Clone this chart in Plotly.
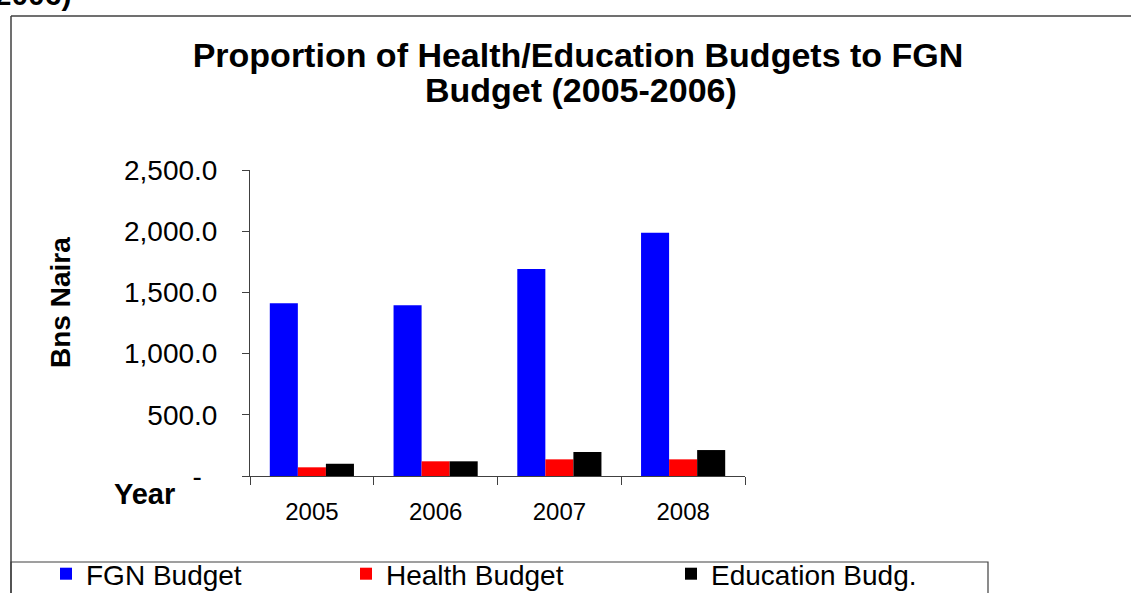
import plotly.graph_objects as go

years = ["2005", "2006", "2007", "2008"]
fgn_budget = [1411, 1394, 1691, 1988]
health_budget = [71, 120, 136, 136]
education_budget = [100, 120, 196, 212]

ytick_vals = [0, 500, 1000, 1500, 2000, 2500]
ytick_text = ["-\u00a0\u00a0", "500.0", "1,000.0", "1,500.0", "2,000.0", "2,500.0"]

W, H = 1131, 593
L, R, T, B = 250, 745, 170, 476  # plot area pixels


def px(x):
    return (x - L) / (R - L)


def py(y):
    return (B - y) / (B - T)


FONT = "Liberation Sans, Arial, sans-serif"

fig = go.Figure()
fig.add_trace(go.Bar(name="FGN Budget", x=years, y=fgn_budget, marker_color="#0000FF",
                     marker_line_width=0, legend="legend"))
fig.add_trace(go.Bar(name="Health Budget", x=years, y=health_budget, marker_color="#FF0000",
                     marker_line_width=0, legend="legend2"))
fig.add_trace(go.Bar(name="Education Budg.", x=years, y=education_budget, marker_color="#000000",
                     marker_line_width=0, legend="legend3"))


def legend_at(xpix):
    return dict(
        orientation="h", xref="paper", yref="paper",
        x=px(xpix), xanchor="left", y=py(574), yanchor="middle",
        font=dict(family=FONT, size=28, color="black"),
        bgcolor="rgba(0,0,0,0)", borderwidth=0,
    )


fig.update_layout(
    width=W, height=H,
    margin=dict(l=L, r=W - R, t=T, b=H - B, pad=0, autoexpand=False),
    paper_bgcolor="white", plot_bgcolor="white",
    barmode="group", bargap=0.32, bargroupgap=0,
    font=dict(family=FONT, color="black"),
    title=dict(
        text="<b>Proportion of Health/Education Budgets to FGN</b>",
        x=578 / W, xref="container", xanchor="center",
        y=1 - 55 / H, yref="container", yanchor="middle",
        font=dict(family=FONT, size=34, color="black"),
    ),
    showlegend=True,
    legend=legend_at(46),
    legend2=legend_at(346),
    legend3=legend_at(671),
    xaxis=dict(
        type="category", showgrid=False, showline=True, linecolor="#404040", linewidth=1,
        ticks="outside", tickson="boundaries", ticklen=8, tickcolor="#404040", tickwidth=1,
        tickfont=dict(family=FONT, size=24, color="black"), ticklabelstandoff=14,
        zeroline=False,
    ),
    yaxis=dict(
        range=[0, 2500], showgrid=False, showline=True, linecolor="#404040", linewidth=1,
        ticks="outside", ticklen=7, tickcolor="#404040", tickwidth=1,
        tickvals=ytick_vals, ticktext=ytick_text,
        tickfont=dict(family=FONT, size=28, color="black"), ticklabelstandoff=19,
        zeroline=False,
    ),
)

# Second title line
fig.add_annotation(text="<b>Budget (2005-2006)</b>", xref="paper", yref="paper", x=px(581), y=py(90),
                   xanchor="center", yanchor="middle", showarrow=False,
                   font=dict(family=FONT, size=34, color="black"))
# Axis titles as annotations
fig.add_annotation(text="<b>Bns Naira</b>", xref="paper", yref="paper", x=px(60), y=py(303),
                   xanchor="center", yanchor="middle", textangle=-90, showarrow=False,
                   font=dict(family=FONT, size=28, color="black"))
fig.add_annotation(text="<b>Year</b>", xref="paper", yref="paper", x=px(144), y=py(494),
                   xanchor="center", yanchor="middle", showarrow=False,
                   font=dict(family=FONT, size=29, color="black"))
# Cut-off caption text at the very top-left
fig.add_annotation(text="<b>(2005-2006)</b>", xref="paper", yref="paper", x=px(73), y=py(13),
                   xanchor="right", yanchor="bottom", showarrow=False,
                   font=dict(family=FONT, size=30, color="black"))

# Chart frame (top and left edges) and legend box
frame = dict(color="#404040", width=1.5)
fig.add_shape(type="line", xref="paper", yref="paper", x0=px(11), x1=px(1140), y0=py(16), y1=py(16), line=frame)
fig.add_shape(type="line", xref="paper", yref="paper", x0=px(11), x1=px(11), y0=py(16), y1=py(600), line=frame)
fig.add_shape(type="rect", xref="paper", yref="paper", x0=px(11), x1=px(988), y0=py(562), y1=py(600),
              line=dict(color="#404040", width=1.2))

fig.write_html("out.html", config={"displayModeBar": False},
               post_script="document.body.style.margin='0';")
